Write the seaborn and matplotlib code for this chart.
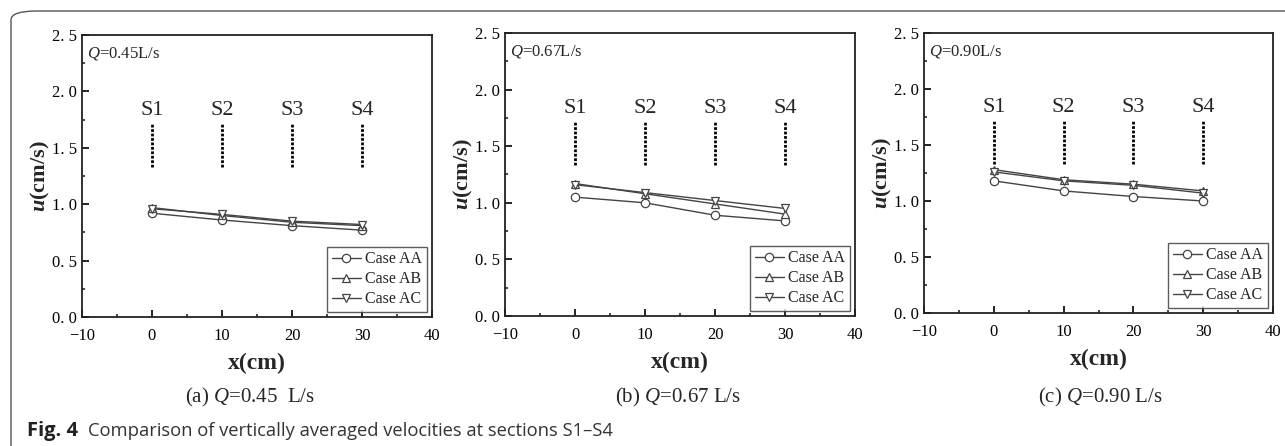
import pandas as pd
import matplotlib.pyplot as plt
import seaborn as sns
import numpy as np
from matplotlib.lines import Line2D
from matplotlib.patches import FancyBboxPatch
from matplotlib.ticker import MultipleLocator, FuncFormatter

# data
x_cm = [0, 10, 20, 30]
sections = ["S1", "S2", "S3", "S4"]
cases = ["Case AA", "Case AB", "Case AC"]
flows = ["0.45", "0.67", "0.90"]
panel_tags = ["(a)", "(b)", "(c)"]
flow_units = ["  L/s", " L/s", " L/s"]

u_045 = {"Case AA": [0.92, 0.86, 0.81, 0.77],
         "Case AB": [0.97, 0.90, 0.84, 0.81],
         "Case AC": [0.96, 0.91, 0.85, 0.82]}
u_067 = {"Case AA": [1.05, 1.00, 0.89, 0.84],
         "Case AB": [1.17, 1.08, 0.99, 0.90],
         "Case AC": [1.16, 1.09, 1.02, 0.95]}
u_090 = {"Case AA": [1.18, 1.09, 1.04, 1.00],
         "Case AB": [1.28, 1.19, 1.15, 1.09],
         "Case AC": [1.26, 1.18, 1.14, 1.07]}
all_u = [u_045, u_067, u_090]

markers = {"Case AA": "o", "Case AB": "^", "Case AC": "v"}

sns.set_style("ticks")
plt.rcParams['font.family'] = ['Liberation Serif', 'DejaVu Serif']
plt.rcParams['mathtext.fontset'] = 'custom'
plt.rcParams['mathtext.rm'] = 'Liberation Serif'
plt.rcParams['mathtext.it'] = 'Liberation Serif:italic'
plt.rcParams['mathtext.bf'] = 'Liberation Serif:bold:italic'

fig = plt.figure(figsize=(12.85, 4.46), dpi=100)

# outer rounded frame (runs off the right and bottom edges)
frame = FancyBboxPatch((11 / 1285, -0.2), 1.2, 1.2 - 11 / 446,
                       boxstyle="round,pad=0,rounding_size=0.02",
                       transform=fig.transFigure, fill=False,
                       edgecolor="#555555", linewidth=1.0, clip_on=False)
fig.patches.append(frame)

positions = [[0.0638, 0.2892, 0.2724, 0.6323],
             [0.3930, 0.2915, 0.2724, 0.6345],
             [0.7191, 0.2982, 0.2716, 0.6278]]
caption_x = [250 / 1285, 678 / 1285, 1100 / 1285]

ytick_fmt = FuncFormatter(lambda v, p: f"{v:.1f}".replace(".", ". "))
xtick_fmt = FuncFormatter(lambda v, p: f"{v:.0f}".replace("-", "\u2212"))

for i, u in enumerate(all_u):
    ax = fig.add_axes(positions[i])
    rows = []
    for c in cases:
        for xv, uv in zip(x_cm, u[c]):
            rows.append({"x": xv, "u": uv, "case": c})
    df = pd.DataFrame(rows)
    sns.lineplot(data=df, x="x", y="u", style="case", markers=markers,
                 dashes=False, color="#444444", linewidth=1.0,
                 markersize=6, markerfacecolor="white",
                 markeredgecolor="#444444", markeredgewidth=0.9,
                 legend=False, ax=ax)

    # section markers
    for xs, s in zip(x_cm, sections):
        ax.plot([xs, xs], [1.33, 1.71], color="black", linestyle=(0, (1, 0.6)),
                linewidth=2.0)
        ax.text(xs, 1.75, s, ha="center", va="bottom", fontsize=16)

    ax.text(0.015, 0.935, f"$Q$={flows[i]}L/s",
            transform=ax.transAxes, fontsize=12, ha="left", va="center")

    ax.set_xlim(-10, 40)
    ax.set_ylim(0, 2.5)
    ax.xaxis.set_major_locator(MultipleLocator(10))
    ax.xaxis.set_minor_locator(MultipleLocator(5))
    ax.yaxis.set_major_locator(MultipleLocator(0.5))
    ax.yaxis.set_minor_locator(MultipleLocator(0.25))
    ax.yaxis.set_major_formatter(ytick_fmt)
    ax.xaxis.set_major_formatter(xtick_fmt)
    ax.tick_params(which="major", direction="in", length=5, width=1.2,
                   labelsize=12, colors="black")
    ax.tick_params(axis="x", which="major", pad=8)
    ax.tick_params(which="minor", direction="in", length=2.5, width=1.2)
    for sp in ax.spines.values():
        sp.set_visible(True)
        sp.set_linewidth(1.3)
        sp.set_color("#222222")

    ax.set_xlabel("x(cm)", fontsize=17, fontweight="bold", labelpad=6)
    ax.set_ylabel(r"$\mathbf{u}$(cm/s)", fontsize=16, fontweight="bold",
                  labelpad=0)

    handles = [Line2D([], [], color="#444444", linewidth=1.0,
                      marker=markers[c], markersize=6,
                      markerfacecolor="white", markeredgecolor="#444444",
                      markeredgewidth=0.9) for c in cases]
    leg = ax.legend(handles, cases, loc="lower right", fontsize=11.5,
                    frameon=True, fancybox=False, edgecolor="#333333",
                    handlelength=1.8, handletextpad=0.3, labelspacing=0.25,
                    borderpad=0.3, borderaxespad=0.3)
    leg.get_frame().set_linewidth(1.0)

    fig.text(caption_x[i], 1 - 397 / 446,
             f"{panel_tags[i]} $Q$={flows[i]}{flow_units[i]}",
             ha="center", va="center", fontsize=15)

fig.text(27 / 1285, 1 - 431 / 446, "Fig. 4", fontsize=14.5, fontweight="bold",
         family="Open Sans", ha="left", va="center", color="#222222")
fig.text(88 / 1285, 1 - 431 / 446,
         "Comparison of vertically averaged velocities at sections S1\u2013S4",
         fontsize=13.2, family="Open Sans", ha="left", va="center",
         color="#333333")

fig.savefig("out.png", dpi=100)
